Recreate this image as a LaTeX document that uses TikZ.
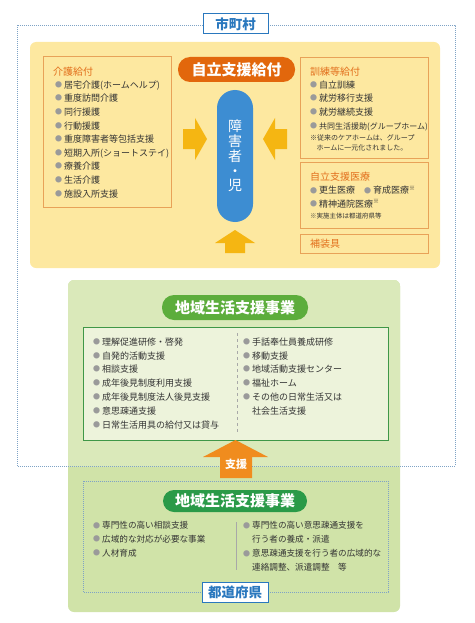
\documentclass[tikz,border=0pt]{standalone}
\usepackage{fontspec}
\setmainfont{Noto Sans CJK JP}

\definecolor{frameblue}{HTML}{7FA3C6}
\definecolor{namedblue}{HTML}{2A78BE}
\definecolor{yellowbg}{HTML}{FDE8A0}
\definecolor{boxorange}{HTML}{E8A258}
\definecolor{titleorange}{HTML}{E26F1C}
\definecolor{pillorange}{HTML}{E2670C}
\definecolor{pillblue}{HTML}{3D8DD2}
\definecolor{arrowyellow}{HTML}{F5B612}
\definecolor{greenhigh}{HTML}{DAE9BA}
\definecolor{greenlow}{HTML}{D0E3A8}
\definecolor{pillgreen}{HTML}{5CAD3C}
\definecolor{pilldarkgreen}{HTML}{2A9A48}
\definecolor{innergreen}{HTML}{3F9747}
\definecolor{innerfill}{HTML}{EDF3DB}
\definecolor{shienorange}{HTML}{F08C1E}
\definecolor{txtgray}{HTML}{333333}
\definecolor{bulgray}{HTML}{9A9A9A}
\definecolor{divgray}{HTML}{A8A8A8}

\newcommand\bul{\raisebox{0.1em}{\textcolor{bulgray}{\fontsize{7}{7}\selectfont ●}}\hspace{2pt}}
\newcommand\ind{\phantom{\bul}}

\tikzset{
  itembox/.style={draw=boxorange, line width=0.9pt, inner sep=0pt},
  titletext/.style={anchor=west, inner sep=0pt, text=titleorange, font=\fontsize{10}{11}\selectfont},
  yitems/.style={anchor=north west, align=left, inner sep=0pt, text=txtgray, font=\fontsize{9}{13.6}\selectfont},
  gitems/.style={anchor=north west, align=left, inner sep=0pt, text=txtgray, font=\fontsize{9}{13.8}\selectfont},
  notetext/.style={anchor=north west, align=left, inner sep=0pt, text=txtgray, font=\fontsize{7}{9.5}\selectfont},
  pillnode/.style={rounded corners=12pt, inner sep=0pt, text=white, font=\bfseries\fontsize{15}{15}\selectfont},
  areaname/.style={draw=namedblue, fill=white, line width=1pt, inner sep=0pt, text=namedblue, font=\bfseries\fontsize{13.5}{14}\selectfont},
  frameline/.style={draw=frameblue, line width=0.8pt, dash pattern=on 0.9pt off 1.1pt}
}

\begin{document}
\begin{tikzpicture}[x=1pt,y=-1pt]
	\useasboundingbox (0,0) rectangle (474,623);
	
	% green area
	\fill[greenlow, rounded corners=6pt] (68,280) rectangle (400,612);
	\begin{scope}
		\clip (0,0) rectangle (474,466);
		\fill[greenhigh, rounded corners=6pt] (68,280) rectangle (400,612);
	\end{scope}
	
	% municipal frame
	\draw[frameline] (17,25) rectangle (455,466);
	\node[areaname, minimum width=65pt, minimum height=20pt] (shichoson) at (235.5,24) {市町村};
	
	% yellow area
	\fill[yellowbg, rounded corners=6pt] (30,42) rectangle (440,268);
	
	\node[itembox, minimum width=128pt, minimum height=151pt] (kaigo) at (107,131.5) {};
	\node[titletext] (kaigo-t) at (53,72) {介護給付};
	\node[yitems] (kaigo-l) at (55,80.5) {\bul 居宅介護(ホームヘルプ)\\\bul 重度訪問介護\\\bul 同行援護\\\bul 行動援護\\\bul 重度障害者等包括支援\\\bul 短期入所(ショートステイ)\\\bul 療養介護\\\bul 生活介護\\\bul 施設入所支援};
	
	\node[itembox, minimum width=128pt, minimum height=101pt] (kunren) at (364,107.5) {};
	\node[titletext] (kunren-t) at (310,72) {訓練等給付};
	\node[yitems] (kunren-l) at (310,80.5) {\bul 自立訓練\\\bul 就労移行支援\\\bul 就労継続支援\\\bul {\fontsize{8}{8}\selectfont 共同生活援助(グループホーム)}};
	\node[notetext] (kunren-n) at (310,134.5) {※従来のケアホームは、グループ\\\hspace*{0.9em}ホームに一元化されました。};
	
	\node[itembox, minimum width=128pt, minimum height=66pt] (iryo) at (364,195) {};
	\node[titletext] (iryo-t) at (310,177) {自立支援医療};
	\node[yitems] (iryo-l) at (310,185.5) {\bul 更生医療\hspace{1em}\bul 育成医療\textsuperscript{※}\\\bul 精神通院医療\textsuperscript{※}};
	\node[notetext, font=\fontsize{6.5}{8}\selectfont] (iryo-n) at (310,212.5) {※実施主体は都道府県等};
	
	\node[itembox, minimum width=128pt, minimum height=19pt] (sogu) at (364,243.5) {};
	\node[titletext] (sogu-t) at (310,244) {補装具};
	
	\node[pillnode, fill=pillorange, minimum width=117pt, minimum height=25pt] (jiritsu) at (236.5,69.5) {自立支援給付};
	\node[rounded corners=18pt, fill=pillblue, minimum width=36pt, minimum height=132pt, inner sep=0pt, align=center, text=white, font=\fontsize{14}{14.8}\selectfont] (shogai) at (235,156) {障\\害\\者\\・\\児};
	
	% arrows toward the person
	\fill[arrowyellow] (183,129) -- (195,129) -- (195,118) -- (207,139) -- (195,160) -- (195,149) -- (183,149) -- cycle;
	\fill[arrowyellow] (287,129) -- (275,129) -- (275,118) -- (263,139) -- (275,160) -- (275,149) -- (287,149) -- cycle;
	\fill[arrowyellow] (225,253) -- (225,243) -- (215,243) -- (235,230) -- (255,243) -- (245,243) -- (245,253) -- cycle;
	
	% community support (municipal)
	\node[pillnode, fill=pillgreen, minimum width=146pt, minimum height=25pt] (chiiki) at (235,307.5) {地域生活支援事業};
	\node[draw=innergreen, fill=innerfill, line width=1pt, minimum width=305pt, minimum height=113pt] (chiiki-b) at (235.5,383.5) {};
	\draw[divgray, dashed] (237,333) -- (237,433);
	\node[gitems] (chiiki-l) at (93,337.5) {\bul 理解促進研修・啓発\\\bul 自発的活動支援\\\bul 相談支援\\\bul 成年後見制度利用支援\\\bul 成年後見制度法人後見支援\\\bul 意思疎通支援\\\bul 日常生活用具の給付又は貸与};
	\node[gitems] (chiiki-r) at (243,337.5) {\bul 手話奉仕員養成研修\\\bul 移動支援\\\bul 地域活動支援センター\\\bul 福祉ホーム\\\bul その他の日常生活又は\\\ind 社会生活支援};
	
	% prefectural
	\draw[frameline] (83,481) rectangle (388,592);
	\node[pillnode, fill=pilldarkgreen, rounded corners=11pt, minimum width=144pt, minimum height=22pt] (chiiki2) at (235,501) {地域生活支援事業};
	\draw[divgray] (236,522) -- (236,570);
	\node[gitems, font=\fontsize{8.6}{13.8}\selectfont] (chiiki2-l) at (93,521.5) {\bul 専門性の高い相談支援\\\bul 広域的な対応が必要な事業\\\bul 人材育成};
	\node[gitems, font=\fontsize{8.6}{14}\selectfont] (chiiki2-r) at (243,521.5) {\bul 専門性の高い意思疎通支援を\\\ind 行う者の養成・派遣\\\bul 意思疎通支援を行う者の広域的な\\\ind 連絡調整、派遣調整\hspace{1em}等};
	\node[areaname, minimum width=66pt, minimum height=20pt] (todofuken) at (235,592) {都道府県};
	
	% support arrow
	\fill[shienorange] (220,478) -- (220,457) -- (203,457) -- (235.5,440) -- (268,457) -- (252,457) -- (252,478) -- cycle;
	\node[inner sep=0pt, text=white, font=\bfseries\fontsize{11}{11}\selectfont] (shien) at (236,464) {支援};
\end{tikzpicture}
\end{document}
